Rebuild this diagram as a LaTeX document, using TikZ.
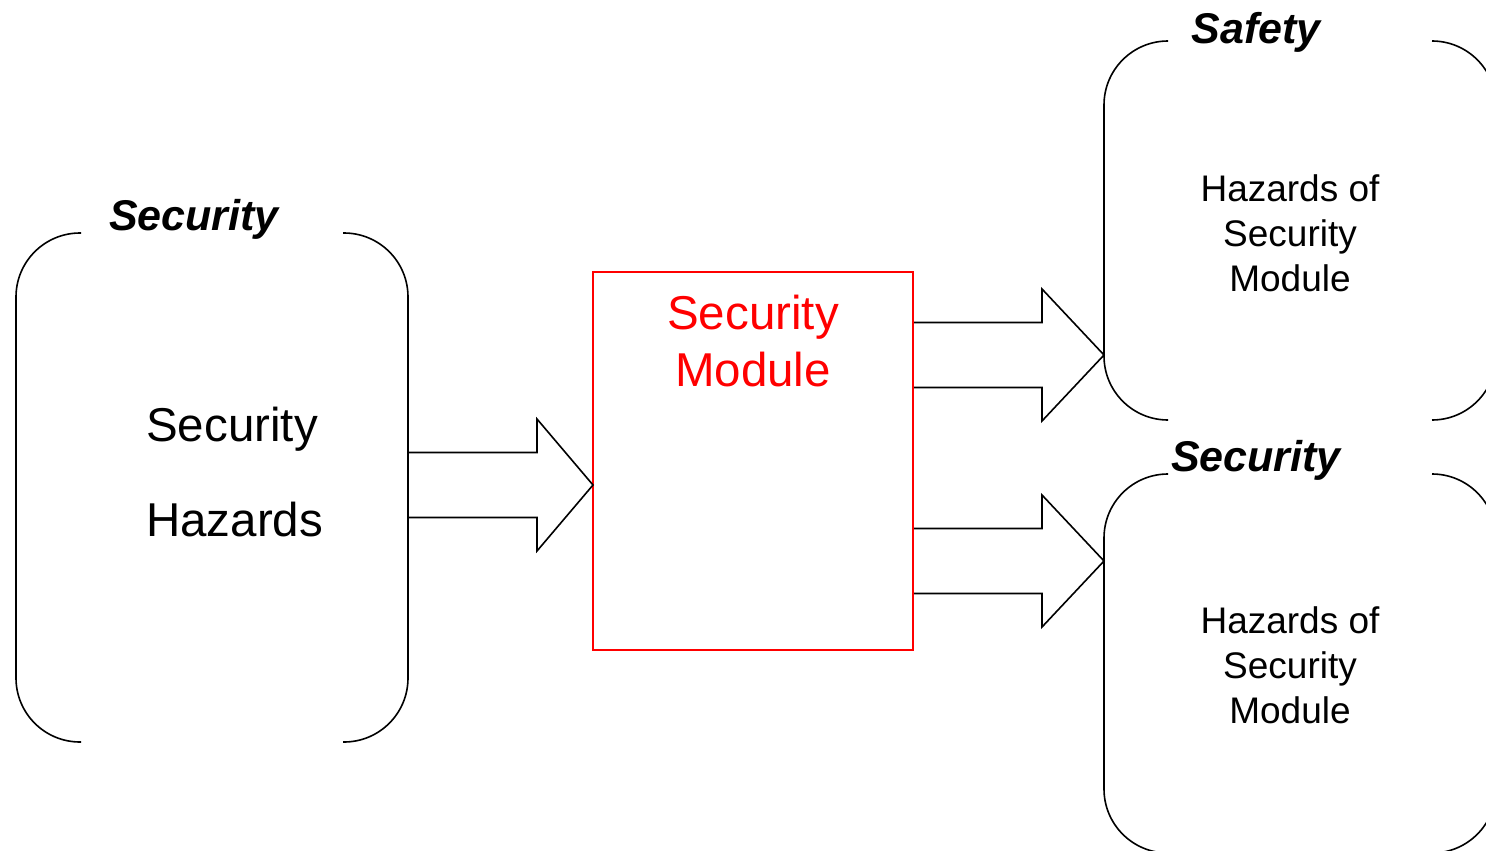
\documentclass[tikz,border=0pt]{standalone}
\usepackage{fontspec}
\setmainfont{Liberation Sans}
\usetikzlibrary{calc}

\tikzset{
  bracket/.style={draw=black, line width=1.6pt, rounded corners=64pt},
  heading/.style={font=\fontsize{43}{48}\selectfont\bfseries\itshape, anchor=base, inner sep=0pt},
  bigtext/.style={font=\fontsize{47.5}{57}\selectfont, inner sep=0pt},
  smalltext/.style={font=\fontsize{37}{45}\selectfont, align=center, inner sep=0pt},
  modulebox/.style={draw=red, line width=1.8pt, minimum width=320pt, minimum height=378pt, inner sep=0pt},
  blockarrow/.style={draw=black, line width=1.6pt, fill=white, line join=miter}
}

% hollow block arrow between two points on the same horizontal line;
% #3 is the length of the head
\newcommand\blockarr[3]{%
  \path[blockarrow] let \p1=(#1), \p2=(#2) in
    (\x1,\y1+32.5pt) -- (\x2-#3pt,\y1+32.5pt) -- (\x2-#3pt,\y1+66pt) -- (\x2,\y1)
    -- (\x2-#3pt,\y1-66pt) -- (\x2-#3pt,\y1-32.5pt) -- (\x1,\y1-32.5pt);%
}

\begin{document}
\begin{tikzpicture}[x=1pt,y=-1pt]
\useasboundingbox (0,0) rectangle (1486,851);
\clip (0,0) rectangle (1486,851);

% left bracket group
\draw[bracket] (81,233) -- (16,233) -- (16,742) -- (81,742);
\draw[bracket] (343,233) -- (408,233) -- (408,742) -- (343,742);
\node[heading] (lhead) at (194,230) {Security};
\node[bigtext, anchor=base west] (lt1) at (146,441) {Security};
\node[bigtext, anchor=base west] (lt2) at (146,536) {Hazards};

% central module
\node[modulebox] (sm) at (753,461) {};
\node[bigtext, text=red, anchor=base] (sm1) at (753,329) {Security};
\node[bigtext, text=red, anchor=base] (sm2) at (753,386) {Module};

% upper right bracket group
\draw[bracket] (1167,41) -- (1104,41) -- (1104,420) -- (1167,420);
\draw[bracket] (1433,41) -- (1496,41) -- (1496,420) -- (1433,420);
\node[heading] (thead) at (1256,44) {Safety};
\node[smalltext, anchor=base] (tt1) at (1290,201) {Hazards of};
\node[smalltext, anchor=base] (tt2) at (1290,246) {Security};
\node[smalltext, anchor=base] (tt3) at (1290,291) {Module};

% lower right bracket group
\draw[bracket] (1167,474) -- (1104,474) -- (1104,853) -- (1167,853);
\draw[bracket] (1433,474) -- (1496,474) -- (1496,853) -- (1433,853);
\node[heading] (bhead) at (1256,471) {Security};
\node[smalltext, anchor=base] (bt1) at (1290,633) {Hazards of};
\node[smalltext, anchor=base] (bt2) at (1290,678) {Security};
\node[smalltext, anchor=base] (bt3) at (1290,723) {Module};

% arrow end points
\coordinate (inS) at (409,485);
\coordinate (inE) at (593,485);
\coordinate (upS) at (914,355);
\coordinate (upE) at (1104,355);
\coordinate (dnS) at (914,561);
\coordinate (dnE) at (1104,561);

\blockarr{inS}{inE}{56}
\blockarr{upS}{upE}{62}
\blockarr{dnS}{dnE}{62}
\end{tikzpicture}
\end{document}
